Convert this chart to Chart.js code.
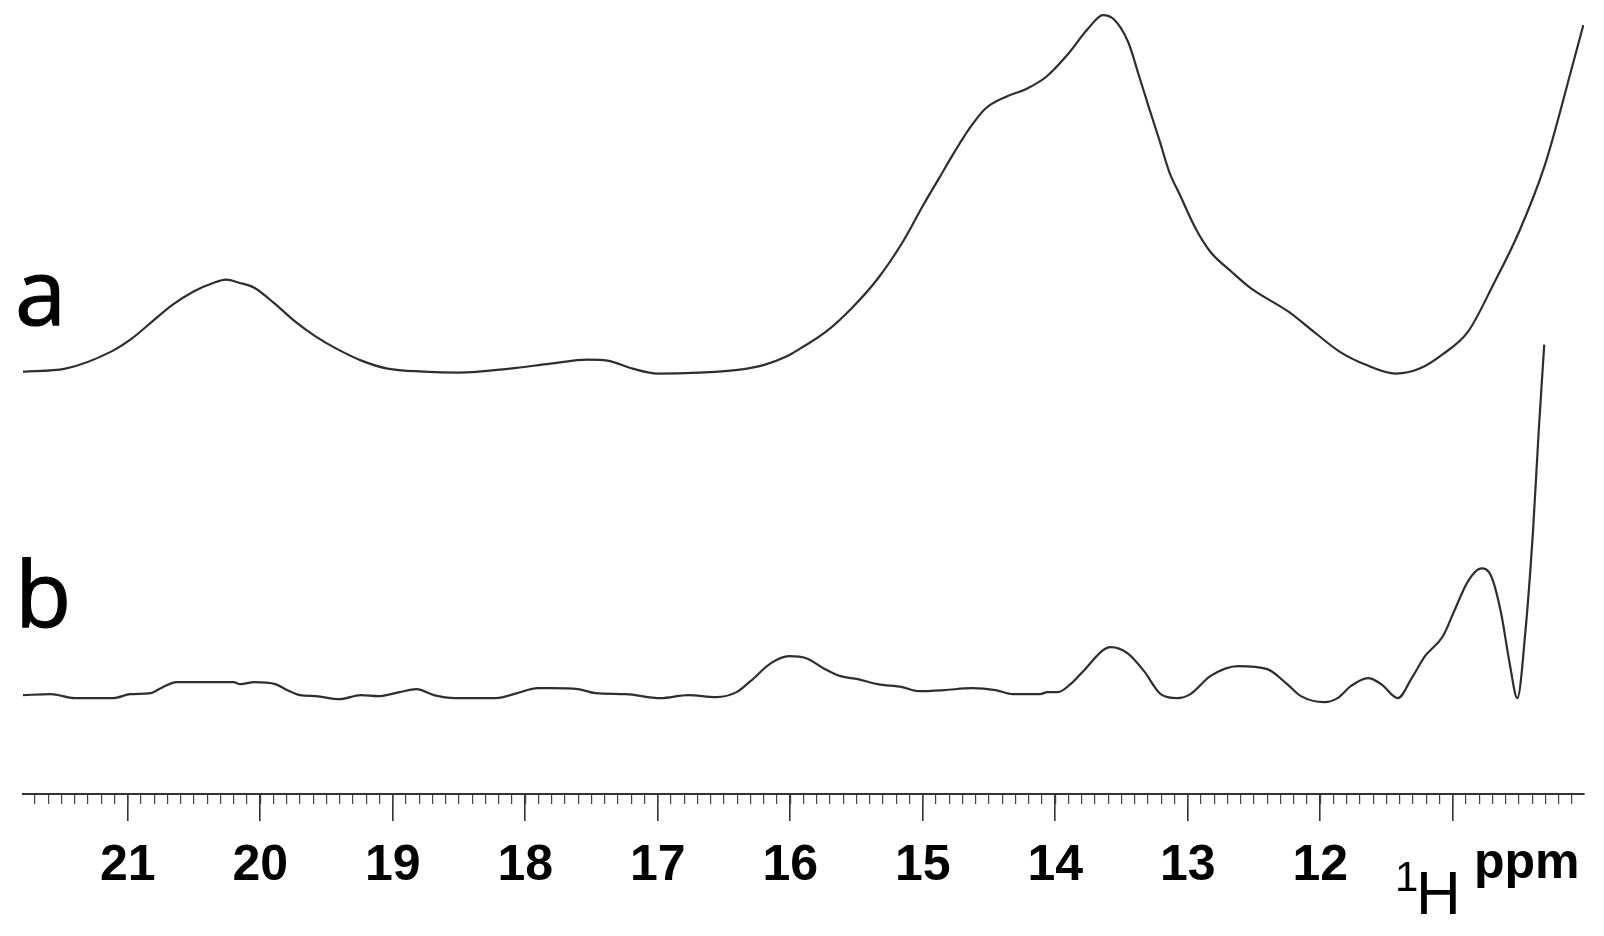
<!DOCTYPE html>
<html>
<head>
<meta charset="utf-8">
<title>1H NMR spectra a / b</title>
<script src="https://cdn.jsdelivr.net/npm/chart.js@4.4.1/dist/chart.umd.min.js"></script>
<style>
  html, body { margin: 0; padding: 0; background: #fff; }
  #wrap { position: relative; width: 1604px; height: 936px; }
  #wrap canvas { position: absolute; left: 0; top: 0; }
  .lbl { position: absolute; line-height: 1; white-space: nowrap; color: #000; }
  .trace { font-family: "Open Sans", "Noto Sans", sans-serif; font-size: 92px; -webkit-text-stroke: 1.2px #000; }
  .unit { font-family: "Liberation Sans", Arial, sans-serif; }
</style>
</head>
<body>
<div id="wrap">
  <canvas id="chart" width="1604" height="936"></canvas>
  <div class="lbl trace" style="left:15px; top:244px;">a</div>
  <div class="lbl trace" style="left:15px; top:546px;">b</div>
  <div class="lbl unit" style="left:1395px; top:856px; font-size:42px;">1</div>
  <div class="lbl unit" style="left:1416px; top:862px; font-size:62px;">H</div>
  <div class="lbl unit" style="left:1474px; top:836px; font-size:50px; font-weight:bold;">ppm</div>
</div>

<script>
// ---- axis range (ppm, reversed) ----
const X_MAX = 21.79;
const X_MIN = 10.01;
const tickLabels = [21, 20, 19, 18, 17, 16, 15, 14, 13, 12];
const AXIS_Y = 794;   // where the ppm axis line sits

// ---- trace a (intensity above its own baseline) ----
const ppmA = [21.79, 21.47, 21.125, 20.97, 20.816, 20.66, 20.506, 20.35, 20.256, 20.16, 20.045,
  19.89, 19.735, 19.58, 19.425, 19.236, 19.04, 18.77, 18.50, 18.115, 17.81, 17.53, 17.38, 17.19,
  17.0, 16.69, 16.38, 16.19, 16.03, 15.926, 15.73, 15.54, 15.34, 15.15, 14.995, 14.88, 14.76,
  14.65, 14.53, 14.375, 14.22, 14.07, 13.91, 13.755, 13.64, 13.56, 13.45, 13.37, 13.29, 13.21,
  13.14, 13.06, 12.94, 12.83, 12.67, 12.52, 12.24, 12.05, 11.855, 11.66, 11.43, 11.25, 11.08,
  10.885, 10.695, 10.50, 10.305, 10.11, 10.015];
const intA = [0, 3, 20, 33, 50, 67, 80, 89, 92, 89, 84,
  68, 50, 35, 23, 11, 3, 0, -1, 3, 8, 12, 11, 3,
  -2, -1, 2, 7, 15, 23, 40, 63, 93, 130, 167, 193, 220,
  243, 263, 275, 283, 295, 317, 343, 357, 353, 330, 297, 263, 230,
  200, 177, 143, 120, 100, 83, 60, 40, 20, 7, -2, 3, 17,
  40, 87, 140, 207, 300, 347];

// ---- trace b ----
const ppmB = [21.79, 21.58, 21.40, 21.11, 20.98, 20.825, 20.75, 20.63, 20.41, 20.20, 20.15,
  20.045, 19.886, 19.81, 19.70, 19.58, 19.40, 19.24, 19.11, 18.95, 18.82, 18.69, 18.53, 18.22,
  18.06, 17.906, 17.81, 17.60, 17.47, 17.24, 16.98, 16.77, 16.56, 16.405, 16.30, 16.145, 16.01,
  15.88, 15.75, 15.62, 15.49, 15.34, 15.155, 15.03, 14.84, 14.63, 14.45, 14.32, 14.115, 14.06,
  13.98, 13.885, 13.81, 13.58, 13.456, 13.33, 13.205, 13.08, 12.98, 12.83, 12.62, 12.40, 12.25,
  12.146, 11.97, 11.87, 11.77, 11.64, 11.54, 11.415, 11.31, 11.21, 11.075, 10.99, 10.886,
  10.785, 10.71, 10.634, 10.57, 10.513, 10.452, 10.395, 10.352, 10.31];
const intB = [-1, 0, -4, -4, 0, 1, 6, 12, 12, 12, 10,
  12, 10, 5, -1, -2, -5, -1, -2, 2, 5, -1, -4, -4,
  1, 6, 6, 5, 1, 0, -4, -1, -3, 2, 13, 31, 38,
  36, 26, 18, 15, 10, 7, 3, 4, 6, 4, 0, 0, 2,
  2, 10, 20, 47, 41, 23, 0, -4, 0, 18, 28, 25, 10,
  -2, -8, -4, 8, 16, 10, -4, 16, 38, 58, 83, 113,
  126, 118, 80, 30, -4, 63, 163, 263, 350];

// vertical stacking of the two spectra
const OFFSET_A = 423;
const OFFSET_B = 100;

function toPoints(xs, ys, off) {
  return xs.map((x, i) => ({ x: x, y: ys[i] + off }));
}

const lineStyle = {
  borderColor: '#2e2e2e',
  borderWidth: 2.2,
  pointRadius: 0,
  fill: false,
  cubicInterpolationMode: 'monotone'
};

const chart = new Chart(document.getElementById('chart'), {
  type: 'line',
  data: {
    datasets: [
      { label: 'a', data: toPoints(ppmA, intA, OFFSET_A), ...lineStyle },
      { label: 'b', data: toPoints(ppmB, intB, OFFSET_B), ...lineStyle }
    ]
  },
  options: {
    responsive: false,
    animation: false,
    layout: { padding: { left: 23, right: 20, top: 0, bottom: 33 } },
    plugins: { legend: { display: false }, tooltip: { enabled: false } },
    scales: {
      x: {
        type: 'linear', reverse: true, min: X_MIN, max: X_MAX, position: 'bottom',
        grid: { drawOnChartArea: false, tickLength: 27, color: '#333', lineWidth: 1.6 },
        border: { display: true, color: '#333', width: 2 },
        ticks: {
          stepSize: 1, autoSkip: false, includeBounds: false, padding: 15,
          minRotation: 0, maxRotation: 0, color: '#000',
          font: { family: '"Liberation Sans", Arial, sans-serif', size: 50, weight: 'bold' },
          callback: v => tickLabels.includes(v) ? String(v) : ''
        }
      },
      xMinor: {
        type: 'linear', reverse: true, min: X_MIN, max: X_MAX, position: { y: 0 },
        grid: { drawOnChartArea: false, tickLength: 10, color: '#444', lineWidth: 1.2 },
        border: { display: false },
        ticks: { display: false, stepSize: 0.1, includeBounds: false, autoSkip: false, maxTicksLimit: 200 }
      },
      y: { display: false, min: 0, max: AXIS_Y }
    }
  }
});

// nudge the bottom padding so the axis line lands where the figure has it
const diff = AXIS_Y - chart.chartArea.bottom;
if (Math.abs(diff) > 0.5) {
  chart.options.layout.padding.bottom -= diff;
  chart.update();
}
</script>
</body>
</html>
